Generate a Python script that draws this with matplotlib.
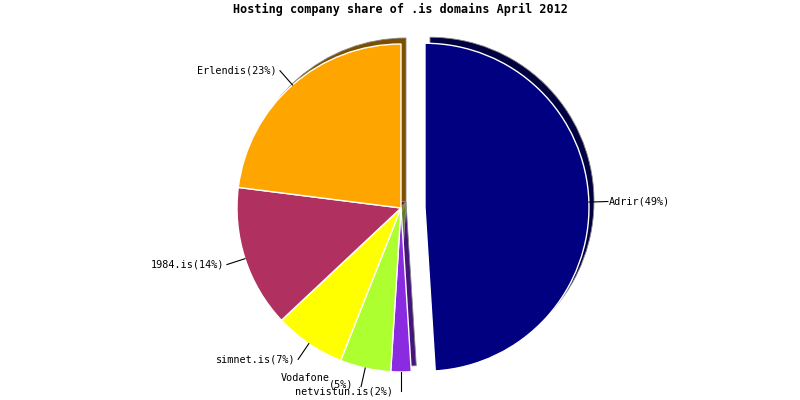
import numpy as np
import matplotlib
matplotlib.use("Agg")
import matplotlib.pyplot as plt

title = "Hosting company share of .is domains April 2012"
names = ["Adrir", "netvistun.is", "Vodafone", "simnet.is", "1984.is", "Erlendis"]
shares = [49, 2, 5, 7, 14, 23]
colors = ["#000080", "#8a2be2", "#adff2f", "#ffff00", "#b03060", "#ffa500"]
shadow_colors = ["#000040", "#45167a", "#56801a", "#808000", "#581830", "#7a5000"]
explode_px = [24, 0, 0, 0, 0, 0]

W, H = 800, 400
cx, cy = 401, H - 208
R = 164
sdx, sdy = 5, 6

fig = plt.figure(figsize=(8, 4), dpi=100)
ax = fig.add_axes([0, 0, 1, 1])

# shadow pie
ax.pie(shares, startangle=90, counterclock=False, center=(cx + sdx, cy + sdy),
       radius=R, explode=explode_px, colors=shadow_colors, frame=True,
       wedgeprops=dict(linewidth=0.6, edgecolor="#888888"))
# main pie
ax.pie(shares, startangle=90, counterclock=False, center=(cx, cy),
       radius=R, explode=explode_px, colors=colors, frame=True,
       wedgeprops=dict(linewidth=1.0, edgecolor="white"))

ax.set_xlim(0, W)
ax.set_ylim(0, H)
ax.set_aspect("auto")
ax.axis("off")

mono = "DejaVu Sans Mono"
fs = 7.3
total = sum(shares)
ang = 90.0
for i, (n, s) in enumerate(zip(names, shares)):
    span = 360.0 * s / total
    mid = np.deg2rad(ang - span / 2)
    ang -= span
    d = np.array([np.cos(mid), np.sin(mid)])
    c = np.array([cx, cy]) + explode_px[i] * d
    p0 = c + R * d
    p1 = c + (R + 19) * d
    ax.plot([p0[0], p1[0]], [p0[1], p1[1]], color="black", lw=0.8)
    pct = f"({s}%)"
    if n == "Vodafone":
        ax.text(p1[0] - 31, p1[1] + 9, n, ha="right", va="center",
                family=mono, fontsize=fs)
        ax.text(p1[0] - 8, p1[1] + 2, pct, ha="right", va="center",
                family=mono, fontsize=fs)
    elif n == "netvistun.is":
        ax.text(p1[0] - 8, p1[1], n + pct, ha="right", va="center",
                family=mono, fontsize=fs)
    elif d[0] >= 0:
        ax.text(p1[0] + 1, p1[1], n + pct, ha="left", va="center",
                family=mono, fontsize=fs)
    else:
        ax.text(p1[0] - 3, p1[1], n + pct, ha="right", va="center",
                family=mono, fontsize=fs)

ax.text(W / 2, H - 9, title, ha="center", va="center", family=mono,
        fontsize=8.5, fontweight="bold")

fig.savefig("out.png", dpi=100)
